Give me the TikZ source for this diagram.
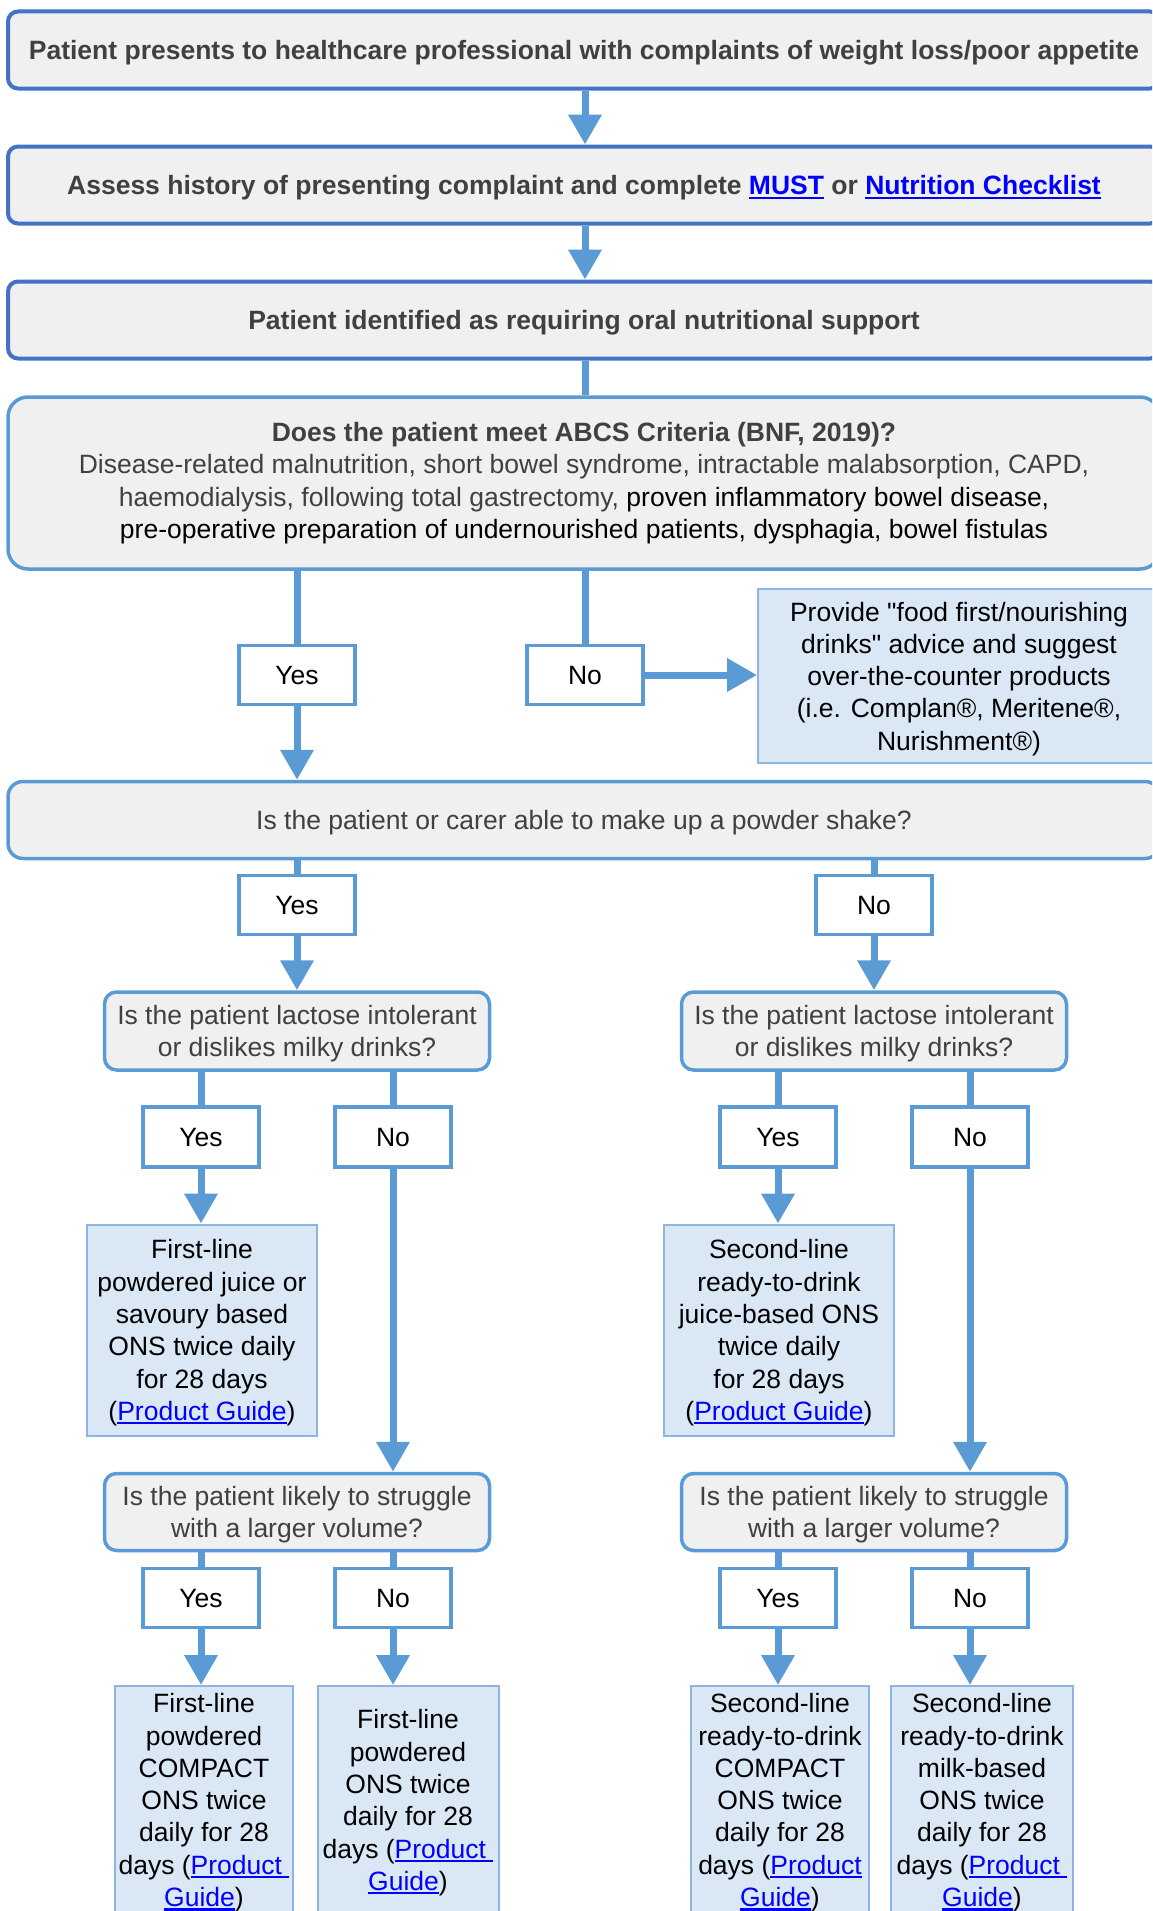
\documentclass[tikz,border=0pt]{standalone}
\usepackage{fontspec}
\setmainfont{Liberation Sans}
\usepackage{xcolor}
\usepackage{tikz}
\usetikzlibrary{arrows.meta}
\definecolor{lnblue}{HTML}{5B9BD5}
\definecolor{hdblue}{HTML}{4472C4}
\definecolor{boxgray}{HTML}{F0F0F0}
\definecolor{advfill}{HTML}{DAE8F6}
\definecolor{advline}{HTML}{8DB4E2}
\definecolor{txtgray}{HTML}{404040}
\definecolor{urlblue}{HTML}{0000FF}
\newcommand\fs{\fontsize{26.5}{32.3}\selectfont}
\newcommand\tstrut{\rule[-5.6pt]{0pt}{31.1pt}}
\newcommand\lnk[1]{{\color{urlblue}\sbox0{#1}\rlap{\rule[-4pt]{\wd0}{2.2pt}}\usebox0}}
\tikzstyle{struts}=[execute at begin node=\tstrut,execute at end node=\tstrut]
\tikzstyle{hdbox}=[draw=hdblue,line width=4pt,fill=boxgray,rounded corners=10pt,minimum width=1152pt,minimum height=77pt,inner sep=0pt,text=txtgray,font=\fs\bfseries,struts]
\tikzstyle{bigbox}=[draw=lnblue,line width=3.5pt,fill=boxgray,rounded corners=20pt,minimum width=1152pt,inner sep=0pt,align=center,text=txtgray,font=\fs]
\tikzstyle{qbox}=[draw=lnblue,line width=3.5pt,fill=boxgray,rounded corners=12pt,minimum width=385pt,minimum height=78pt,inner sep=0pt,align=center,text=txtgray,font=\fs,text depth=-2.8pt]
\tikzstyle{yn}=[draw=lnblue,line width=3.5pt,fill=white,minimum width=116pt,minimum height=59pt,inner sep=0pt,font=\fs,struts]
\tikzstyle{adv}=[draw=advline,line width=2pt,fill=advfill,inner sep=0pt,align=center,font=\fs,text depth=-0.4pt]
\tikzstyle{fl}=[draw=lnblue,line width=7pt]
\tikzstyle{fla}=[fl,-{Triangle[width=32pt,length=30pt]}]

\begin{document}
\begin{tikzpicture}[x=1pt,y=-1pt]
	\useasboundingbox (0,0) rectangle (1152,1911);
	\clip (0,0) rectangle (1152,1911);
	% main column
	\node[hdbox] (top) at (584,50) {Patient presents to healthcare professional with complaints of weight loss/poor appetite};
	\node[hdbox] (must) at (584,185) {Assess history of presenting complaint and complete \lnk{MUST} or \lnk{Nutrition Checklist}};
	\node[hdbox] (ident) at (584,320) {Patient identified as requiring oral nutritional support};
	\node[bigbox,minimum height=172pt] (abcs) at (584,483) {{\bfseries Does the patient meet ABCS Criteria (BNF, 2019)?}\\
		Disease-related malnutrition, short bowel syndrome, intractable malabsorption, CAPD,\\
		haemodialysis, following total gastrectomy, \textcolor{black}{proven inflammatory bowel disease,}\\
		\textcolor{black}{pre-operative preparation of undernourished patients, dysphagia, bowel fistulas}};
	\node[yn] (ya) at (297,675) {Yes};
	\node[yn] (na) at (585,675) {No};
	\node[adv,minimum width=402pt,minimum height=174pt] (food) at (959,676) {Provide \textquotedbl food first/nourishing\\drinks\textquotedbl{} advice and suggest\\over-the-counter products\\(i.e. Complan®, Meritene®,\\Nurishment®)};
	\node[bigbox,struts,rounded corners=15pt,minimum height=77pt] (shake) at (584,820) {Is the patient or carer able to make up a powder shake?};
	\node[yn] (yb) at (297,905) {Yes};
	\node[yn] (nb) at (874,905) {No};
	% lactose
	\node[qbox] (lacL) at (297,1031) {Is the patient lactose intolerant\\or dislikes milky drinks?};
	\node[qbox] (lacR) at (874,1031) {Is the patient lactose intolerant\\or dislikes milky drinks?};
	\node[yn,minimum height=60pt] (yc)  at (201,1137) {Yes};
	\node[yn,minimum height=60pt] (nc)  at (393,1137) {No};
	\node[yn,minimum height=60pt] (ycr) at (778,1137) {Yes};
	\node[yn,minimum height=60pt] (ncr) at (970,1137) {No};
	\node[adv,minimum width=230pt,minimum height=211pt] (juiceL) at (202,1330) {First-line\\powdered juice or\\savoury based\\ONS twice daily\\for 28 days\\(\lnk{Product Guide})};
	\node[adv,minimum width=230pt,minimum height=211pt] (juiceR) at (779,1330) {Second-line\\ready-to-drink\\juice-based ONS\\twice daily\\for 28 days\\(\lnk{Product Guide})};
	% volume
	\node[qbox,minimum height=77pt] (volL) at (297,1512) {Is the patient likely to struggle\\with a larger volume?};
	\node[qbox,minimum height=77pt] (volR) at (874,1512) {Is the patient likely to struggle\\with a larger volume?};
	\node[yn] (yd)  at (201,1598) {Yes};
	\node[yn] (nd)  at (393,1598) {No};
	\node[yn] (ydr) at (778,1598) {Yes};
	\node[yn] (ndr) at (970,1598) {No};
	\node[adv,minimum width=178pt,minimum height=228pt] (compL) at (204,1800) {First-line\\powdered\\COMPACT\\ONS twice\\daily for 28\\days (\lnk{Product\ }\\\lnk{Guide})};
	\node[adv,minimum width=181pt,minimum height=228pt] (powL)  at (408,1800) {First-line\\powdered\\ONS twice\\daily for 28\\days (\lnk{Product\ }\\\lnk{Guide})};
	\node[adv,minimum width=178pt,minimum height=228pt] (compR) at (780,1800) {Second-line\\ready-to-drink\\COMPACT\\ONS twice\\daily for 28\\days (\lnk{Product}\\\lnk{Guide})};
	\node[adv,minimum width=182pt,minimum height=228pt] (milkR) at (982,1800) {Second-line\\ready-to-drink\\milk-based\\ONS twice\\daily for 28\\days (\lnk{Product\ }\\\lnk{Guide})};
	% connectors
	\draw[fla] (top.south -| na) -- (must.north -| na);
	\draw[fla] (must.south -| na) -- (ident.north -| na);
	\draw[fl]  (ident.south -| na) -- (abcs.north -| na);
	\draw[fl]  (abcs.south -| ya) -- (ya);
	\draw[fl]  (abcs.south -| na) -- (na);
	\draw[fla] (ya) -- (shake.north -| ya);
	\draw[fla] (na.east) -- (food.west |- na);
	\draw[fl]  (shake.south -| yb) -- (yb);
	\draw[fl]  (shake.south -| nb) -- (nb);
	\draw[fla] (yb) -- (lacL);
	\draw[fla] (nb) -- (lacR);
	\draw[fl]  (lacL.south -| yc) -- (yc);
	\draw[fl]  (lacL.south -| nc) -- (nc);
	\draw[fl]  (lacR.south -| ycr) -- (ycr);
	\draw[fl]  (lacR.south -| ncr) -- (ncr);
	\draw[fla] (yc) -- (juiceL.north -| yc);
	\draw[fla] (ycr) -- (juiceR.north -| ycr);
	\draw[fla] (nc) -- (volL.north -| nc);
	\draw[fla] (ncr) -- (volR.north -| ncr);
	\draw[fl]  (volL.south -| yd) -- (yd);
	\draw[fl]  (volL.south -| nd) -- (nd);
	\draw[fl]  (volR.south -| ydr) -- (ydr);
	\draw[fl]  (volR.south -| ndr) -- (ndr);
	\draw[fla] (yd) -- (compL.north -| yd);
	\draw[fla] (nd) -- (powL.north -| nd);
	\draw[fla] (ydr) -- (compR.north -| ydr);
	\draw[fla] (ndr) -- (milkR.north -| ndr);
\end{tikzpicture}
\end{document}
